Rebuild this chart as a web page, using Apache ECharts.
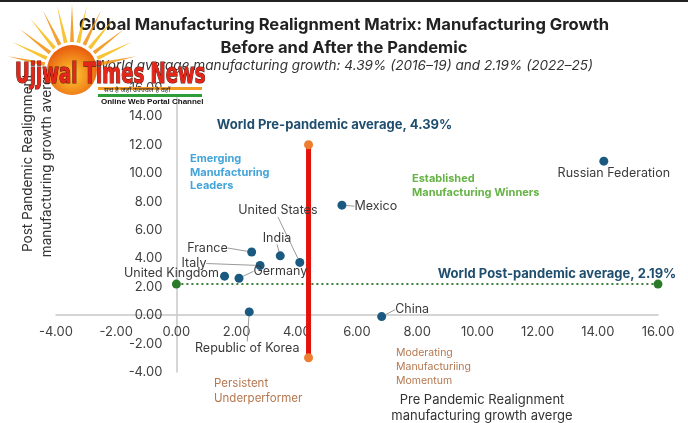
<!DOCTYPE html>
<html>
<head>
<meta charset="utf-8">
<script src="https://cdn.jsdelivr.net/npm/echarts@6/dist/echarts.min.js"></script>
<style>
  html, body { margin: 0; padding: 0; background: #fff; }
  #main { width: 688px; height: 423px; }
</style>
</head>
<body>
<div id="main"></div>
<script>
// data
var countries = ['Russian Federation', 'Mexico', 'United States', 'India', 'France',
                 'Italy', 'United Kingdom', 'Germany', 'Republic of Korea', 'China'];
var preGrowth  = [14.2, 5.5, 4.1, 3.45, 2.5, 2.78, 1.6, 2.08, 2.42, 6.82];
var postGrowth = [10.85, 7.75, 3.72, 4.18, 4.45, 3.5, 2.75, 2.6, 0.23, -0.1];
var preAvg = 4.39;
var postAvg = 2.19;
var preLineSpan = [-3, 12];   // y range of the pre-pandemic average marker
var postLineSpan = [0, 16];   // x range of the post-pandemic average marker
var axisMin = -4, axisMax = 16, axisStep = 2;

// where each country label sits relative to its dot
var labelSpots = {
  'Russian Federation': { pos: 'bottom', dx: 10, dy: -4, line: false },
  'Mexico':             { pos: 'right', dx: 3, dy: 1, line: true },
  'United States':      { pos: 'right', dx: -71, dy: -52, line: true },
  'India':              { pos: 'right', dx: -27, dy: -18, line: true },
  'France':             { pos: 'right', dx: -74, dy: -4, line: true },
  'Italy':              { pos: 'right', dx: -88, dy: -2, line: true },
  'United Kingdom':     { pos: 'right', dx: -110, dy: -3, line: false },
  'Germany':            { pos: 'right', dx: 5, dy: -7, line: true },
  'Republic of Korea':  { pos: 'bottom', dx: -2, dy: 20, line: true },
  'China':              { pos: 'right', dx: 4, dy: -7, line: true }
};

var FONT = 'Inter, "Noto Sans", sans-serif';
var myChart = echarts.init(document.getElementById('main'));

var fmt = function (v) { return v.toFixed(2); };

// sun rays for the logo
var rays = [];
for (var a = 12; a <= 168; a += 13) {
  var r = a * Math.PI / 180;
  var w = 0.07;
  var cx = 72, cy = 70;
  rays.push({
    type: 'polygon',
    shape: { points: [
      [cx + 28 * Math.cos(r - w), cy - 28 * Math.sin(r - w)],
      [cx + 66 * Math.cos(r), cy - 66 * Math.sin(r)],
      [cx + 28 * Math.cos(r + w), cy - 28 * Math.sin(r + w)]
    ] },
    style: { fill: a % 2 ? '#f7b500' : '#f08a00', opacity: 0.8 },
    z: 100
  });
}

var logo = rays.concat([
  { type: 'circle', shape: { cx: 72, cy: 70, r: 25 },
    style: { fill: new echarts.graphic.RadialGradient(0.5, 0.6, 0.6, [
      { offset: 0, color: '#ffcc33' }, { offset: 1, color: '#e8590c' }]) }, z: 100 },
  { type: 'text', x: 15, y: 62, scaleX: 0.72,
    style: { text: 'Ujjwal Times News', font: 'bold 28px "Liberation Sans Narrow", "DejaVu Sans Condensed", sans-serif',
             fill: '#e32619', stroke: '#5a1a10', lineWidth: 1.2 }, z: 101 },
  { type: 'rect', shape: { x: 98, y: 87, width: 104, height: 3 }, style: { fill: '#f59a23' }, z: 100 },
  { type: 'rect', shape: { x: 98, y: 90, width: 104, height: 4 }, style: { fill: '#ffffff' }, z: 100 },
  { type: 'rect', shape: { x: 98, y: 94, width: 104, height: 3 }, style: { fill: '#2e9e3a' }, z: 100 },
  { type: 'text', left: 104, top: 86,
    style: { text: 'सच है जहाँ उज्ज्वल है वहाँ', font: '7px "Noto Sans", sans-serif', fill: '#222' }, z: 101 },
  { type: 'text', left: 101, top: 98,
    style: { text: 'Online Web Portal Channel', font: 'bold 8px "Liberation Sans Narrow", Arial, sans-serif', fill: '#111' }, z: 101 }
]);

var axisCommon = {
  type: 'value', min: axisMin, max: axisMax, interval: axisStep,
  axisTick: { show: false },
  splitLine: { show: false }
};

myChart.setOption({
  animation: false,
  backgroundColor: '#fff',
  title: {
    left: 'center',
    top: 8,
    text: 'Global Manufacturing Realignment Matrix: Manufacturing Growth\nBefore and After the Pandemic',
    textStyle: { fontFamily: FONT, fontSize: 16.6, fontWeight: 'bold', color: '#222', lineHeight: 23 },
    subtext: 'World average manufacturing growth: 4.39% (2016\u201319) and 2.19% (2022\u201325)',
    subtextStyle: { fontFamily: FONT, fontSize: 13.6, fontStyle: 'italic', color: '#333' },
    itemGap: 0
  },
  grid: { left: 56, right: 30, top: 88, bottom: 51 },
  xAxis: Object.assign({}, axisCommon, {
    position: 'bottom',
    axisLine: { onZero: false, lineStyle: { color: '#c8c8c8', width: 1.5 } },
    axisLabel: { formatter: fmt, color: '#404040', fontSize: 13, fontFamily: FONT, margin: 10 }
  }),
  yAxis: Object.assign({}, axisCommon, {
    position: 'left',
    axisLine: { show: true, onZero: false, lineStyle: { color: '#c8c8c8', width: 1.5 } },
    axisLabel: { formatter: fmt, color: '#404040', fontSize: 13, fontFamily: FONT, margin: 14 }
  }),
  series: [
    {
      name: 'Post-pandemic average',
      type: 'line',
      data: [
        { value: [postLineSpan[0], postAvg] },
        { value: [postLineSpan[1], postAvg],
          label: { show: true, position: 'top', offset: [-101, 6],
                   formatter: 'World Post-pandemic average, ' + postAvg.toFixed(2) + '%',
                   color: '#1f4e6e', fontWeight: 'bold', fontSize: 13, fontFamily: FONT } }
      ],
      symbol: 'circle', symbolSize: 9,
      itemStyle: { color: '#2a7a2a' },
      lineStyle: { color: '#3d7f3d', width: 2, type: [2, 3] },
      z: 3
    },
    {
      name: 'Pre-pandemic average',
      type: 'line',
      data: [
        { value: [preAvg, preLineSpan[0]] },
        { value: [preAvg, preLineSpan[1]],
          label: { show: true, position: 'top', offset: [26, -4],
                   formatter: 'World Pre-pandemic average, ' + preAvg.toFixed(2) + '%',
                   color: '#1f4e6e', fontWeight: 'bold', fontSize: 13, fontFamily: FONT } }
      ],
      symbol: 'circle', symbolSize: 9,
      itemStyle: { color: '#ed7d31' },
      lineStyle: { color: '#e3120b', width: 5 },
      z: 4
    },
    {
      name: 'Countries',
      type: 'scatter',
      symbolSize: 9,
      itemStyle: { color: '#1b5a80', opacity: 1 },
      data: countries.map(function (c, i) {
        return {
          name: c,
          value: [preGrowth[i], postGrowth[i]],
          label: { position: labelSpots[c].pos },
          labelLine: { show: labelSpots[c].line }
        };
      }),
      label: { show: true, formatter: '{b}', color: '#3a3a3a', fontSize: 12.5, fontFamily: FONT, distance: 5 },
      labelLine: { show: true, lineStyle: { color: '#9a9a9a', width: 1 } },
      labelLayout: function (p) {
        var s = labelSpots[countries[p.dataIndex]];
        return { dx: s.dx, dy: s.dy };
      },
      z: 5
    }
  ],
  graphic: [
    { type: 'text', left: 190, top: 152,
      style: { text: 'Emerging\nManufacturing\nLeaders', font: 'bold 11px ' + FONT, fill: '#45a5d9', lineHeight: 13.5 } },
    { type: 'text', left: 412, top: 172,
      style: { text: 'Established\nManufacturing Winners', font: 'bold 11px ' + FONT, fill: '#67b346', lineHeight: 14 } },
    { type: 'text', left: 396, top: 346,
      style: { text: 'Moderating\nManufacturiing\nMomentum', font: '10.5px ' + FONT, fill: '#b5774f', lineHeight: 14 } },
    { type: 'text', left: 214, top: 376,
      style: { text: 'Persistent\nUnderperformer', font: '11.5px ' + FONT, fill: '#b5774f', lineHeight: 15 } },
    { type: 'text', x: 482, y: 392,
      style: { text: 'Pre Pandemic Realignment\nmanufacturing growth averge', font: '13px ' + FONT,
               fill: '#333', align: 'center', verticalAlign: 'top', lineHeight: 16 } },
    { type: 'text', x: 37, y: 163, rotation: Math.PI / 2,
      style: { text: 'Post Pandemic Realignment\nmanufacturing growth averge', font: '13.5px ' + FONT,
               fill: '#333', align: 'center', verticalAlign: 'middle', lineHeight: 19 } },
    { type: 'rect', shape: { x: 0, y: 0, width: 688, height: 2 }, style: { fill: '#222' } }
  ].concat(logo)
});

// move both axes (line and labels) so they cross at the origin
var origin = myChart.convertToPixel({ gridIndex: 0 }, [0, 0]);
var corner = myChart.convertToPixel({ gridIndex: 0 }, [axisMin, axisMin]);
myChart.setOption({
  xAxis: { offset: -(corner[1] - origin[1]) },
  yAxis: { offset: -(origin[0] - corner[0]) }
});
</script>
</body>
</html>
